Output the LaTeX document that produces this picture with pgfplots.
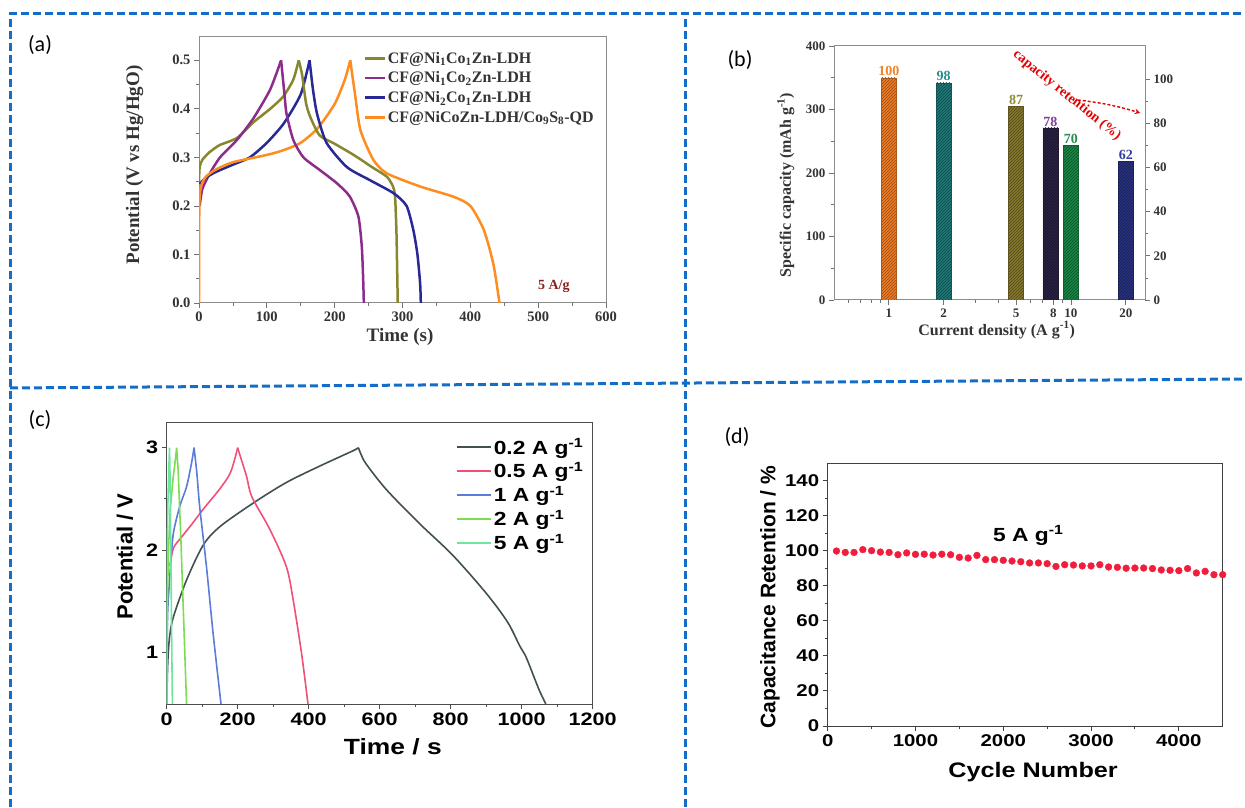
\documentclass[border=0pt]{standalone}
\usepackage{pgfplots}
\pgfplotsset{compat=1.18}
\usetikzlibrary{patterns}
\usepackage{fontspec}
\setmainfont{Liberation Serif}
\newfontfamily\arial{Liberation Sans}
\newfontfamily\arialw[FakeStretch=1.2]{Liberation Sans}
\newfontfamily\calibri{Carlito}

\definecolor{frameblue}{RGB}{20,110,200}
\definecolor{aOlive}{RGB}{135,135,45}
\definecolor{aPurple}{RGB}{140,45,140}
\definecolor{aBlue}{RGB}{40,40,150}
\definecolor{aOrange}{RGB}{255,140,30}
\definecolor{aRed}{RGB}{140,30,30}
\definecolor{bOr}{RGB}{240,125,35}
\definecolor{bTeal}{RGB}{30,120,120}
\definecolor{bOl}{RGB}{135,120,45}
\definecolor{bDk}{RGB}{45,35,70}
\definecolor{bGr}{RGB}{25,135,70}
\definecolor{bNv}{RGB}{40,50,130}
\definecolor{lOr}{RGB}{240,130,40}
\definecolor{lTeal}{RGB}{40,140,140}
\definecolor{lOl}{RGB}{140,140,50}
\definecolor{lPu}{RGB}{130,60,160}
\definecolor{lGr}{RGB}{40,140,80}
\definecolor{lNv}{RGB}{50,60,160}
\definecolor{cA}{RGB}{65,80,80}
\definecolor{cB}{RGB}{240,80,120}
\definecolor{cC}{RGB}{90,125,215}
\definecolor{cD}{RGB}{125,220,80}
\definecolor{cE}{RGB}{110,230,160}
\definecolor{dRed}{RGB}{240,30,60}

\pgfplotsset{
  base/.style={anchor=south west, scale only axis, tick align=outside,
    xtick pos=left, ytick pos=left, scaled x ticks=false, scaled y ticks=false,
    /pgf/number format/assume math mode=true, /pgf/number format/1000 sep={},
    major tick length=5pt, minor tick length=3pt, clip=true},
}

\begin{document}
\begin{tikzpicture}[x=1pt,y=1pt]
\useasboundingbox (0,0) rectangle (1245,807);

% ---------- frame ----------
\begin{scope}[line width=3pt, draw=frameblue, dash pattern=on 8pt off 4pt]
\draw (10,0) -- (10,793) -- (1245,793);
\draw (685,0) -- (685,793);
\draw (10,419) -- (1245,428);
\end{scope}

\node[font=\calibri\fontsize{22}{24}\selectfont] at (40,762) {(a)};
\node[font=\calibri\fontsize{22}{24}\selectfont] at (740,747) {(b)};
\node[font=\calibri\fontsize{22}{24}\selectfont] at (40,387) {(c)};
\node[font=\calibri\fontsize{22}{24}\selectfont] at (737,370) {(d)};

% ---------- (a) ----------
\begin{axis}[base,
  at={(199pt,504pt)}, width=407pt, height=267pt,
  xmin=0, xmax=600, ymin=0, ymax=0.55,
  xtick={0,100,200,300,400,500,600}, minor x tick num=1,
  ytick={0,0.1,0.2,0.3,0.4,0.5}, minor y tick num=1,
  axis line style={black!45, line width=1pt},
  tick style={black!55, line width=0.8pt},
  ticklabel style={font=\bfseries\fontsize{14.5}{16}\selectfont, text=black!80},
  yticklabel style={/pgf/number format/.cd, fixed, fixed zerofill, precision=1},
  xlabel={Time (s)}, ylabel={Potential (V vs Hg/HgO)},
  label style={font=\bfseries\fontsize{19}{21}\selectfont, text=black!80},
  xlabel style={at={(axis description cs:0.494,-0.127)}, anchor=center},
  ylabel style={at={(axis description cs:-0.158,0.517)}, anchor=center},
  legend style={at={(rel axis cs:0.396,0.955)}, anchor=north west, draw=none, fill=none,
    font=\bfseries\fontsize{16}{17}\selectfont, text=black!80, row sep=3pt},
  legend cell align=left,
  legend image code/.code={\draw[#1] (0pt,0pt) -- (20pt,0pt);},
]
\addplot[aOlive, line width=2.5pt, smooth, tension=0.4] coordinates {
(0,0.25) (1,0.28) (5,0.295) (15,0.31) (30,0.325) (56,0.34) (80,0.372) (105,0.40) (124,0.425) (139,0.46) (147,0.5)};
\addlegendentry{CF@Ni\textsubscript{1}Co\textsubscript{1}Zn-LDH}
\addplot[aPurple, line width=2.5pt, smooth, tension=0.4] coordinates {
(1,0.2) (5,0.235) (16,0.267) (31,0.30) (56,0.336) (80,0.38) (105,0.44) (121,0.5)};
\addlegendentry{CF@Ni\textsubscript{1}Co\textsubscript{2}Zn-LDH}
\addplot[aBlue, line width=2.5pt, smooth, tension=0.4] coordinates {
(1,0.245) (10,0.258) (25,0.27) (50,0.285) (75,0.30) (100,0.33) (125,0.37) (150,0.43) (163,0.5)};
\addlegendentry{CF@Ni\textsubscript{2}Co\textsubscript{1}Zn-LDH}
\addplot[aOrange, line width=2.5pt, smooth, tension=0.4] coordinates {
(0,0) (0.5,0.2) (3,0.24) (10,0.26) (25,0.275) (50,0.29) (100,0.305) (125,0.315) (150,0.33) (175,0.36) (200,0.41) (215,0.46) (223,0.5)};
\addlegendentry{CF@NiCoZn-LDH/Co\textsubscript{9}S\textsubscript{8}-QD}
\addplot[forget plot, aOlive, line width=2.5pt, smooth, tension=0.4] coordinates {
(147,0.5) (152,0.47) (158,0.41) (165,0.38) (178,0.345) (200,0.328) (228,0.305) (255,0.28) (277,0.26) (286,0.24) (289,0.22) (291,0.15) (292,0.08) (293,0.0)};
\addplot[forget plot, aPurple, line width=2.5pt, smooth, tension=0.4] coordinates {
(121,0.5) (126,0.43) (129,0.39) (139,0.336) (154,0.30) (178,0.274) (203,0.247) (222,0.22) (235,0.178) (240,0.116) (242,0.05) (243,0)};
\addplot[forget plot, aBlue, line width=2.5pt, smooth, tension=0.4] coordinates {
(163,0.5) (168,0.44) (174,0.39) (188,0.33) (218,0.28) (252,0.253) (287,0.226) (306,0.2) (316,0.15) (322,0.1) (326,0.04) (327,0)};
\addplot[forget plot, aOrange, line width=2.5pt, smooth, tension=0.4] coordinates {
(223,0.5) (230,0.43) (238,0.356) (257,0.295) (277,0.267) (326,0.24) (375,0.219) (400,0.2) (420,0.15) (434,0.08) (443,0)};
\node[font=\bfseries\fontsize{14}{16}\selectfont, text=aRed] at (axis cs:523,0.034) {5 A/g};
\end{axis}

% ---------- (b) ----------
\begin{axis}[base,
  at={(834pt,507pt)}, width=311pt, height=254pt,
  xmode=log, xmin=0.5, xmax=25.5, ymin=0, ymax=400,
  xtick={1,2,5,8,10,20}, xticklabels={1,2,5,8,10,20},
  minor xtick={0.6,0.7,0.8,0.9,3,4,6,7,9},
  ytick={0,100,200,300,400}, minor y tick num=1,
  ybar, bar width=15pt, bar shift=0pt,
  axis line style={black!45, line width=1pt},
  tick style={black!55, line width=0.8pt},
  ticklabel style={font=\bfseries\fontsize{13}{15}\selectfont, text=black!80},
  xlabel={Current density (A g\textsuperscript{-1})},
  ylabel={Specific capacity (mAh g\textsuperscript{-1})},
  label style={font=\bfseries\fontsize{16}{18}\selectfont, text=black!80},
  xlabel style={at={(axis description cs:0.523,-0.118)}, anchor=center},
  ylabel style={at={(axis description cs:-0.155,0.453)}, anchor=center},
]
\addplot[fill=bOr, draw=bOr!70!black, postaction={pattern=north east lines, pattern color=bOr!60!black}] coordinates {(1,350)};
\addplot[fill=bTeal, draw=bTeal!70!black, postaction={pattern=north east lines, pattern color=bTeal!60!black}] coordinates {(2,342)};
\addplot[fill=bOl, draw=bOl!70!black, postaction={pattern=north east lines, pattern color=bOl!60!black}] coordinates {(5,305)};
\addplot[fill=bDk, draw=bDk!70!black, postaction={pattern=north east lines, pattern color=bDk!50!black}] coordinates {(7.7,271)};
\addplot[fill=bGr, draw=bGr!70!black, postaction={pattern=north east lines, pattern color=bGr!60!black}] coordinates {(10,243)};
\addplot[fill=bNv, draw=bNv!70!black, postaction={pattern=north east lines, pattern color=bNv!60!black}] coordinates {(20,218)};
\node[anchor=south, inner sep=1.5pt, font=\bfseries\fontsize{14}{16}\selectfont, text=lOr] at (axis cs:1,350) {100};
\node[anchor=south, inner sep=1.5pt, font=\bfseries\fontsize{14}{16}\selectfont, text=lTeal] at (axis cs:2,342) {98};
\node[anchor=south, inner sep=1.5pt, font=\bfseries\fontsize{14}{16}\selectfont, text=lOl] at (axis cs:5,305) {87};
\node[anchor=south, inner sep=1.5pt, font=\bfseries\fontsize{14}{16}\selectfont, text=lPu] at (axis cs:7.7,271) {78};
\node[anchor=south, inner sep=1.5pt, font=\bfseries\fontsize{14}{16}\selectfont, text=lGr] at (axis cs:10,243) {70};
\node[anchor=south, inner sep=1.5pt, font=\bfseries\fontsize{14}{16}\selectfont, text=lNv] at (axis cs:20,218) {62};
\node[rotate=-39, text=red!90!black, font=\bfseries\fontsize{14}{16}\selectfont] at (axis cs:9.5,322) {capacity retention (\%)};
\draw[red!90!black, dash pattern=on 3pt off 2pt, line width=1.4pt, ->, >=stealth] (axis cs:10.9,315) to[bend left=5] (axis cs:24,294.5);
\end{axis}
\begin{axis}[base,
  at={(834pt,507pt)}, width=311pt, height=254pt,
  xmode=log, xmin=0.5, xmax=25.5, ymin=0, ymax=115.1,
  axis x line=none, axis y line*=right, ytick pos=right,
  ytick={0,20,40,60,80,100}, minor y tick num=1,
  axis line style={black!45, line width=1pt},
  tick style={black!55, line width=0.8pt},
  ticklabel style={font=\bfseries\fontsize{13}{15}\selectfont, text=black!80},
]
\end{axis}

% ---------- (c) ----------
\begin{axis}[base,
  at={(166.7pt,103pt)}, width=426pt, height=282pt,
  xmin=0, xmax=1200, ymin=0.5, ymax=3.25,
  xtick={0,200,400,600,800,1000,1200}, minor x tick num=1,
  ytick={1,2,3}, minor ytick={1.5,2.5},
  axis line style={black!70, line width=1pt},
  tick style={black!70, line width=0.9pt},
  ticklabel style={font=\arialw\bfseries\fontsize{18}{20}\selectfont},
  xlabel={Time / s}, ylabel={Potential / V},
  xlabel style={font=\arialw\bfseries\fontsize{22}{24}\selectfont, at={(axis description cs:0.531,-0.152)}, anchor=center},
  ylabel style={font=\arial\bfseries\fontsize{22}{24}\selectfont, at={(axis description cs:-0.098,0.523)}, anchor=center},
  legend style={at={(rel axis cs:0.672,0.956)}, anchor=north west, draw=none, fill=none,
    font=\arialw\bfseries\fontsize{19}{21}\selectfont, row sep=3pt},
  legend cell align=left,
  legend image code/.code={\draw[#1] (0pt,0pt) -- (34pt,0pt);},
]
\addplot[cA, line width=1.6pt, smooth, tension=0.5] coordinates {
(0,0.5) (3,0.9) (8,1.15) (19,1.35) (56,1.71) (103,2.05) (150,2.23) (244,2.46) (337,2.66) (431,2.82) (525,2.97) (540,3.0)};
\addlegendentry{0.2 A g\textsuperscript{-1}}
\addplot[cB, line width=1.6pt, smooth, tension=0.5] coordinates {
(9,1.85) (19,2.02) (40,2.12) (70,2.25) (103,2.40) (150,2.60) (180,2.76) (200,3.0)};
\addlegendentry{0.5 A g\textsuperscript{-1}}
\addplot[cC, line width=1.6pt, smooth, tension=0.5] coordinates {
(0,0.5) (2,1.3) (6,1.6) (12,1.9) (19,2.17) (37,2.43) (56,2.62) (70,2.85) (77,3.0)};
\addlegendentry{1 A g\textsuperscript{-1}}
\addplot[cD, line width=1.6pt] coordinates {
(0,0.5) (2,1.5) (5,2.0) (10,2.4) (18,2.7) (25,2.9) (28,3.0) (32,2.8) (40,2.1) (48,1.3) (56,0.5)};
\addlegendentry{2 A g\textsuperscript{-1}}
\addplot[cE, line width=1.6pt] coordinates {
(0,0.5) (1,1.8) (3,2.4) (6,2.8) (8,3.0) (10,2.6) (13,1.5) (16,0.5)};
\addlegendentry{5 A g\textsuperscript{-1}}
\addplot[forget plot, cA, line width=1.6pt, smooth, tension=0.5] coordinates {
(540,3.0) (548,2.93) (562,2.84) (619,2.59) (712,2.26) (806,1.95) (900,1.58) (960,1.3) (994,1.07) (1012,0.96) (1035,0.76) (1050,0.63) (1068,0.5)};
\addplot[forget plot, cB, line width=1.6pt, smooth, tension=0.5] coordinates {
(200,3.0) (206,2.93) (225,2.72) (240,2.52) (291,2.2) (337,1.84) (356,1.52) (380,0.99) (398,0.5)};
\addplot[forget plot, cC, line width=1.6pt, smooth, tension=0.5] coordinates {
(77,3.0) (85,2.75) (93,2.42) (112,1.84) (131,1.18) (153,0.5)};
\end{axis}

% ---------- (d) ----------
\begin{axis}[base,
  at={(827.7pt,81pt)}, width=395pt, height=263pt,
  xmin=0, xmax=4500, ymin=0, ymax=150,
  xtick={0,1000,2000,3000,4000}, minor x tick num=1,
  ytick={0,20,40,60,80,100,120,140}, minor y tick num=1,
  axis line style={black!75, line width=1pt},
  tick style={black!75, line width=0.9pt},
  ticklabel style={font=\arialw\bfseries\fontsize{17}{19}\selectfont},
  xlabel={Cycle Number}, ylabel={Capacitance Retention / \%},
  xlabel style={font=\arialw\bfseries\fontsize{21}{23}\selectfont, at={(axis description cs:0.52,-0.174)}, anchor=center},
  ylabel style={font=\arial\bfseries\fontsize{21}{23}\selectfont, at={(axis description cs:-0.146,0.49)}, anchor=center},
]
\addplot[only marks, mark=*, mark size=3.4pt, color=dRed] coordinates {
(100,99.8) (200,99) (300,99) (400,100.6) (500,100) (600,99.2) (700,99) (800,97.7) (900,98.7) (1000,97.9)
(1100,98) (1200,97.5) (1300,98) (1400,97.7) (1500,96.2) (1600,95.8) (1700,97.3) (1800,94.9) (1900,94.9) (2000,94.5)
(2100,94.1) (2200,93.7) (2300,93) (2400,93) (2500,92.6) (2600,91) (2700,92) (2800,91.8) (2900,91.3) (3000,91.3)
(3100,92) (3200,90.7) (3300,90.5) (3400,90) (3500,90.1) (3600,90.1) (3700,89.8) (3800,89) (3900,88.8) (4000,88.6)
(4100,89.8) (4200,87.3) (4300,88.2) (4400,86.3) (4500,86.3)};
\node[font=\arialw\bfseries\fontsize{19}{21}\selectfont] at (axis cs:2285,108.7) {5 A g\textsuperscript{-1}};
\end{axis}
\end{tikzpicture}
\end{document}
